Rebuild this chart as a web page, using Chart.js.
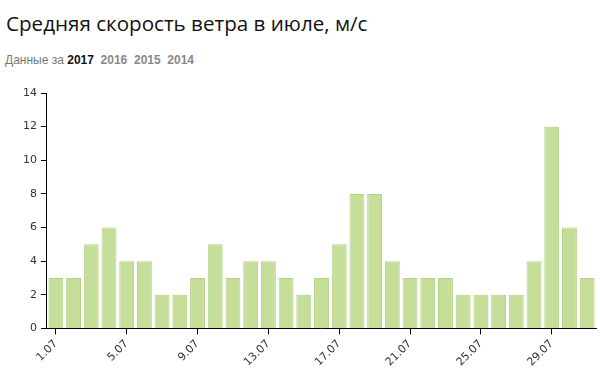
<!DOCTYPE html>
<html><head><meta charset="utf-8">
<script src="https://cdn.jsdelivr.net/npm/chart.js@4"></script>
<style>
html,body{margin:0;padding:0;background:#fff;width:600px;height:372px;overflow:hidden;}
#title{position:absolute;left:6px;top:9px;font-family:"Open Sans",sans-serif;font-size:20.6px;color:#111;white-space:nowrap;}
#sub{position:absolute;left:5px;top:53px;font-family:"Liberation Sans",Arial,sans-serif;font-size:12px;color:#777;white-space:nowrap;}
#sub b{color:#888;}
#sub b.cur{color:#111;}
#wrap{position:absolute;left:0;top:80px;width:600px;height:292px;}
</style></head><body>
<div id="title">Средняя скорость ветра в июле, м/с</div>
<div id="sub">Данные за <b class="cur">2017</b>&nbsp; <b>2016</b>&nbsp; <b>2015</b>&nbsp; <b>2014</b></div>
<div id="wrap"><canvas id="c"></canvas></div>
<script>
const days = ["1.07","2.07","3.07","4.07","5.07","6.07","7.07","8.07","9.07","10.07","11.07","12.07","13.07","14.07","15.07","16.07","17.07","18.07","19.07","20.07","21.07","22.07","23.07","24.07","25.07","26.07","27.07","28.07","29.07","30.07","31.07"];
const windSpeed = [3,3,5,6,4,4,2,2,3,5,3,4,4,3,2,3,5,8,8,4,3,3,3,2,2,2,2,4,12,6,3];
const yTicks = [0,2,4,6,8,10,12,14];

new Chart(document.getElementById('c'), {
  type: 'bar',
  data: { labels: days, datasets: [{ data: windSpeed, backgroundColor: '#c5df9b', borderColor: '#b3d283', borderWidth: 1, barPercentage: 0.84, categoryPercentage: 1 }] },
  options: {
    responsive: true, maintainAspectRatio: false, animation: false,
    layout: { padding: { top: 13, right: 4, left: 19, bottom: 0 } },
    plugins: { legend: { display: false }, tooltip: { enabled: false } },
    scales: {
      x: {
        offset: true,
        grid: { offset: false, drawOnChartArea: false, drawTicks: true, tickLength: 6, color: '#000' },
        border: { color: '#000', width: 1 },
        ticks: {
          autoSkip: false, minRotation: 45, maxRotation: 45, color: '#333',
          font: { family: 'DejaVu Sans', size: 11 },
          callback: function(v, i) { return i % 4 === 0 ? days[i] : null; }
        }
      },
      y: {
        min: 0, max: yTicks[yTicks.length-1],
        grid: { drawOnChartArea: false, drawTicks: true, tickLength: 6, color: '#000' },
        border: { color: '#000', width: 1 },
        afterBuildTicks: function(s){ s.ticks = yTicks.map(v => ({value: v})); },
        ticks: { color: '#333', padding: 4, font: { family: 'DejaVu Sans', size: 11 } }
      }
    }
  }
});
</script>
</body></html>
